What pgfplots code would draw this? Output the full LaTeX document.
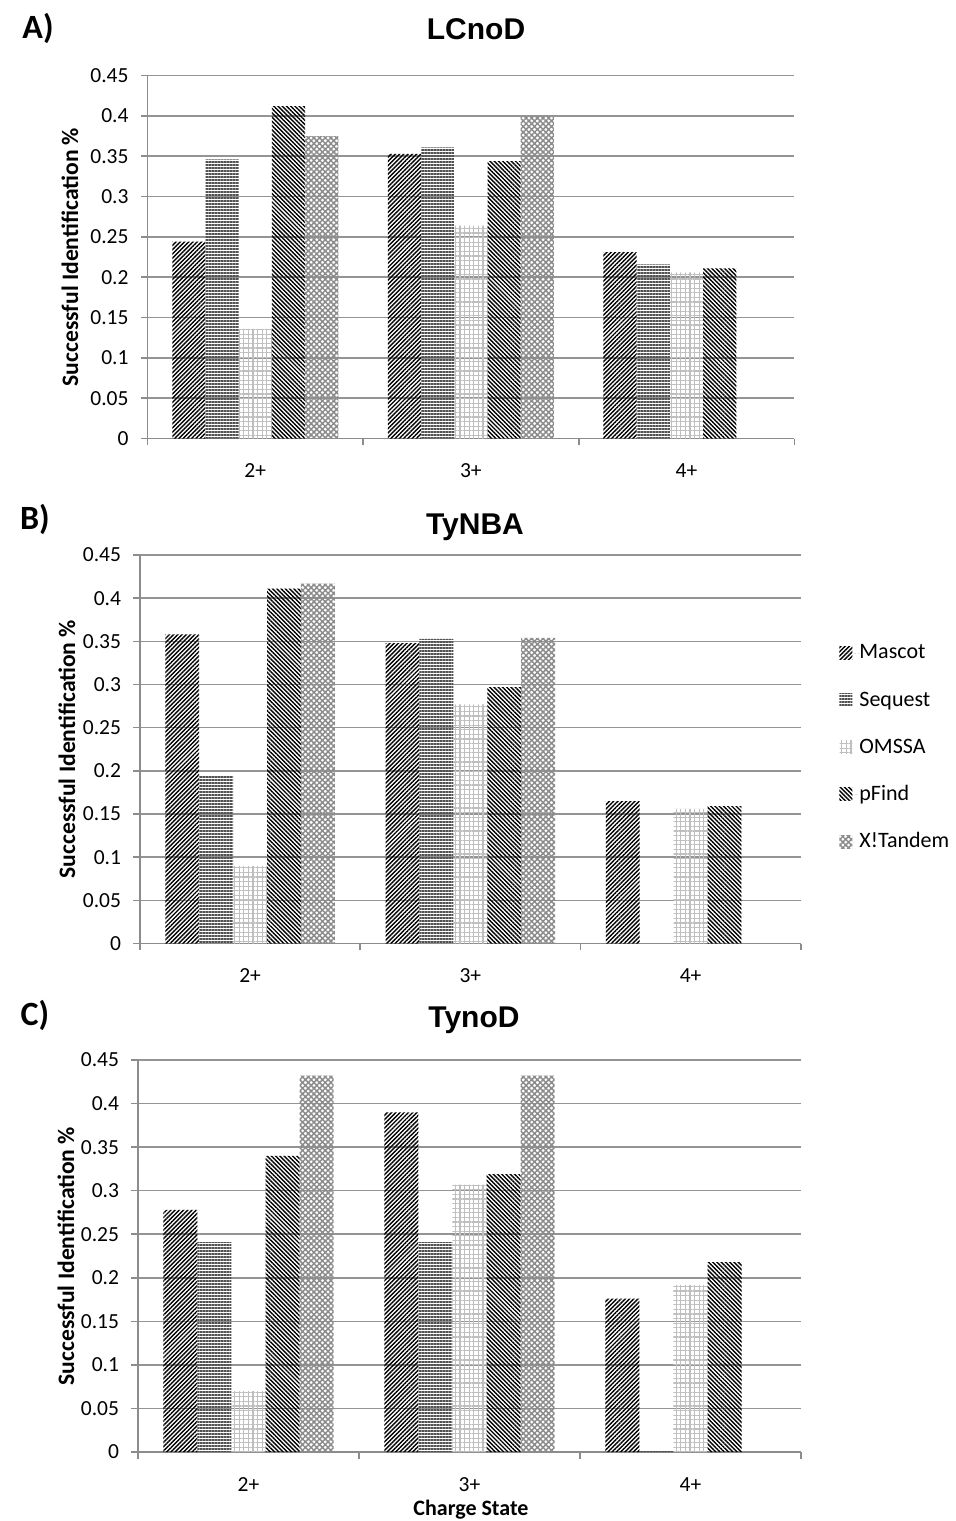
\documentclass[border=0pt]{standalone}
\usepackage{fontspec}
\setmainfont{Carlito}
\newfontfamily\arialfont{Liberation Sans}
\usepackage{pgfplots}
\pgfplotsset{compat=1.18}
\usetikzlibrary{patterns.meta}

\pgfplotsset{
  chartbase/.style={
    scale only axis,
    ybar=0pt,
    bar width=0.154,
    xmin=-0.5, xmax=2.5, ymin=0, ymax=0.45,
    xtick={-0.5,0.5,1.5,2.5},
    xticklabels={},
    extra x ticks={0,1,2},
    extra x tick labels={2+,3+,4+},
    extra x tick style={major tick length=0pt, grid=none},
    ytick={0,0.05,0.1,0.15,0.2,0.25,0.3,0.35,0.4,0.45},
    yticklabels={0,0.05,0.1,0.15,0.2,0.25,0.3,0.35,0.4,0.45},
    ymajorgrids,
    grid style={draw=black!42, line width=0.8pt},
    axis x line*=bottom, axis y line*=left,
    axis line style={draw=black!45, line width=0.8pt, -},
    tick style={draw=black!45, line width=0.8pt},
    tick align=outside,
    major tick length=3.3pt,
    tick label style={font=\fontsize{10.75}{12}\selectfont},
    y tick label style={inner sep=0pt, anchor=east, xshift=-6pt},
    x tick label style={inner sep=0pt, anchor=base, yshift=-19.5pt},
    /pgf/number format/assume math mode=true,
    clip=false,
    legend image code/.code={\fill[##1,draw=none] (0pt,-3pt) rectangle (6.5pt,3.5pt); \path (0pt,0pt) -- (10pt,0pt);},
  },
  mascot/.style={draw=none, pattern={Lines[angle=45,distance=1.5pt,line width=0.7pt]}, pattern color=black},
  sequest/.style={draw=none, pattern={Lines[angle=0,distance=1.5pt,line width=0.7pt]}, pattern color=black!68},
  omssa/.style={draw=none, pattern={Hatch[angle=0,distance=2.3pt,line width=0.6pt]}, pattern color=black!25},
  pfind/.style={draw=none, pattern={Lines[angle=-45,distance=1.5pt,line width=0.7pt]}, pattern color=black},
  xtandem/.style={draw=none, pattern={Hatch[angle=45,distance=2pt,line width=0.75pt]}, pattern color=black!45},
}

\begin{document}
\begin{tikzpicture}
\useasboundingbox (0,0) rectangle (477.5pt,-760.5pt);

% ---------- Panel A ----------
\begin{axis}[chartbase, at={(73.75pt,-219.25pt)}, anchor=south west, width=323.4pt, height=181.5pt]
\addplot[mascot]  coordinates {(0,0.244) (1,0.353) (2,0.231)};
\addplot[sequest] coordinates {(0,0.346) (1,0.361) (2,0.216)};
\addplot[omssa]   coordinates {(0,0.136) (1,0.264) (2,0.206)};
\addplot[pfind]   coordinates {(0,0.412) (1,0.344) (2,0.211)};
\addplot[xtandem] coordinates {(0,0.375) (1,0.399) (2,0)};
\end{axis}

% ---------- Panel B ----------
\begin{axis}[chartbase, at={(70pt,-471.75pt)}, anchor=south west, width=330.35pt, height=194.25pt,
  legend style={draw=none, fill=none, inner sep=0pt, anchor=west, at={(1.058,0.504)},
    font=\fontsize{11}{13}\selectfont, row sep=13.1pt, column sep=0pt,
    nodes={inner sep=0pt, text height=8pt, text depth=2.5pt}},
  legend cell align=left]
\addplot[mascot]  coordinates {(0,0.358) (1,0.348) (2,0.165)};
\addplot[sequest] coordinates {(0,0.195) (1,0.353) (2,0)};
\addplot[omssa]   coordinates {(0,0.090) (1,0.277) (2,0.156)};
\addplot[pfind]   coordinates {(0,0.411) (1,0.297) (2,0.159)};
\addplot[xtandem] coordinates {(0,0.417) (1,0.354) (2,0)};
\legend{Mascot,Sequest,OMSSA,pFind,X!Tandem}
\end{axis}

% ---------- Panel C ----------
\begin{axis}[chartbase, at={(69pt,-726pt)}, anchor=south west, width=331.5pt, height=196pt]
\addplot[mascot]  coordinates {(0,0.278) (1,0.390) (2,0.176)};
\addplot[sequest] coordinates {(0,0.241) (1,0.241) (2,0.002)};
\addplot[omssa]   coordinates {(0,0.070) (1,0.307) (2,0.192)};
\addplot[pfind]   coordinates {(0,0.340) (1,0.319) (2,0.218)};
\addplot[xtandem] coordinates {(0,0.432) (1,0.432) (2,0)};
\end{axis}

% titles
\node[font=\arialfont\bfseries\fontsize{15}{18}\selectfont] at (238pt,-14.5pt) {LCnoD};
\node[font=\arialfont\bfseries\fontsize{15}{18}\selectfont] at (237.5pt,-263.5pt) {TyNBA};
\node[font=\arialfont\bfseries\fontsize{15}{18}\selectfont] at (237pt,-510pt) {TynoD};
% panel letters
\node[font=\bfseries\fontsize{17}{20}\selectfont] at (19pt,-14pt) {A)};
\node[font=\bfseries\fontsize{17}{20}\selectfont] at (17.5pt,-259.5pt) {B)};
\node[font=\bfseries\fontsize{17}{20}\selectfont] at (17.5pt,-507.5pt) {C)};
% y labels
\node[rotate=90, font=\bfseries\fontsize{11.8}{14}\selectfont] at (35pt,-128.5pt) {Successful Identification \%};
\node[rotate=90, font=\bfseries\fontsize{11.8}{14}\selectfont] at (33.5pt,-374.5pt) {Successful Identification \%};
\node[rotate=90, font=\bfseries\fontsize{11.8}{14}\selectfont] at (33pt,-628pt) {Successful Identification \%};
% x label
\node[font=\bfseries\fontsize{11}{13}\selectfont] at (235.5pt,-755pt) {Charge State};
\end{tikzpicture}
\end{document}
